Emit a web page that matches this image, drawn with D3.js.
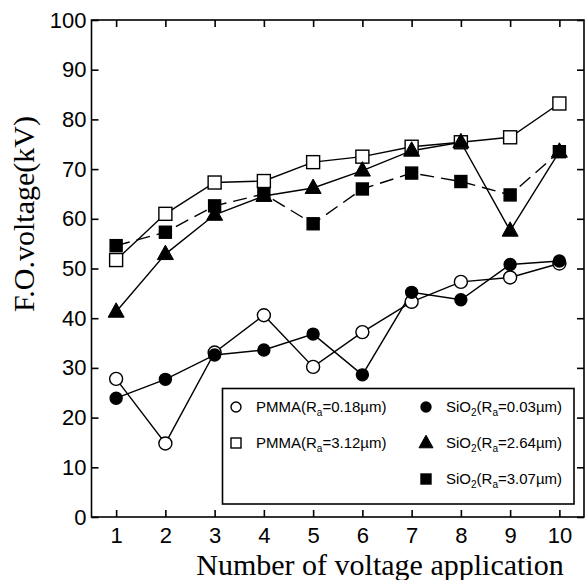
<!DOCTYPE html>
<html>
<head>
<meta charset="utf-8">
<script src="https://cdn.jsdelivr.net/npm/d3@7"></script>
<style>
  html, body { margin: 0; padding: 0; background: #fff; }
  svg { display: block; }
</style>
</head>
<body>
<svg id="chart" width="585" height="580"></svg>
<script>
// ---- data ----
const applications = [1, 2, 3, 4, 5, 6, 7, 8, 9, 10];
const pmma018 = [27.8, 14.8, 33.1, 40.6, 30.2, 37.2, 43.3, 47.3, 48.2, 51.0];
const pmma312 = [51.7, 61.0, 67.3, 67.6, 71.4, 72.5, 74.5, 75.4, 76.4, 83.2];
const sio2003 = [23.9, 27.7, 32.6, 33.6, 36.8, 28.6, 45.2, 43.7, 50.8, 51.5];
const sio2264 = [41.3, 52.9, 60.8, 64.6, 66.2, 69.7, 73.7, 75.4, 57.6, 73.5];
const sio2307 = [54.6, 57.3, 62.6, 65.0, 59.0, 66.0, 69.2, 67.5, 64.8, 73.5];
const yTicks = [0, 10, 20, 30, 40, 50, 60, 70, 80, 90, 100];
const xTicks = [1, 2, 3, 4, 5, 6, 7, 8, 9, 10];
const seriesNames = ["PMMA", "PMMA", "SiO", "SiO", "SiO"];
const raValues = ["0.18", "3.12", "0.03", "2.64", "3.07"];

const series = [
  { name: seriesNames[0], ra: raValues[0], values: pmma018, shape: "circle", fill: false, dash: null, sub2: false },
  { name: seriesNames[1], ra: raValues[1], values: pmma312, shape: "square", fill: false, dash: null, sub2: false },
  { name: seriesNames[2], ra: raValues[2], values: sio2003, shape: "circle", fill: true, dash: null, sub2: true },
  { name: seriesNames[3], ra: raValues[3], values: sio2264, shape: "triangle", fill: true, dash: null, sub2: true },
  { name: seriesNames[4], ra: raValues[4], values: sio2307, shape: "square", fill: true, dash: "14,7", sub2: true }
];

// ---- layout ----
const L = 91.5, R = 584, T = 20, B = 517;
const x = d3.scaleLinear().domain([0.5, 10.5]).range([L, R]);
const y = d3.scaleLinear().domain([0, 100]).range([B, T]);
const svg = d3.select("#chart");
const tickLen = 7;

// frame
svg.append("rect").attr("x", L).attr("y", T).attr("width", R - L).attr("height", B - T)
  .attr("fill", "none").attr("stroke", "#000").attr("stroke-width", 1.6);

// axes with inward ticks
const axLeft = d3.axisLeft(y).tickValues(yTicks).tickSize(-tickLen).tickPadding(5).tickFormat(d3.format("d"));
const axRight = d3.axisRight(y).tickValues(yTicks).tickSize(-tickLen).tickFormat("");
const axBottom = d3.axisBottom(x).tickValues(xTicks).tickSize(-tickLen).tickPadding(10).tickFormat(d3.format("d"));
const axTop = d3.axisTop(x).tickValues(xTicks).tickSize(-tickLen).tickFormat("");

function styleAxis(g) {
  g.select(".domain").remove();
  g.selectAll(".tick line").attr("stroke", "#000").attr("stroke-width", 1.6);
  g.selectAll(".tick text").attr("fill", "#000")
    .style("font-family", "'Liberation Sans', Arial, sans-serif").style("font-size", "22px");
}
svg.append("g").attr("class", "ax-left").attr("transform", `translate(${L},0)`).call(axLeft).call(styleAxis);
svg.append("g").attr("transform", `translate(${R},0)`).call(axRight).call(styleAxis);
svg.append("g").attr("transform", `translate(0,${B})`).call(axBottom).call(styleAxis);
svg.append("g").attr("transform", `translate(0,${T})`).call(axTop).call(styleAxis);

// axis titles
svg.append("text").attr("x", 380).attr("y", 575).attr("text-anchor", "middle")
  .style("font-family", "'Liberation Serif', 'Times New Roman', serif").style("font-size", "30px")
  .text("Number of voltage application");
svg.append("text").attr("transform", "translate(34,214) rotate(-90)").attr("text-anchor", "middle")
  .style("font-family", "'Liberation Serif', 'Times New Roman', serif").style("font-size", "30px")
  .text("F.O.voltage(kV)");

// marker drawing helper
function drawMarker(g, shape, fill, cx, cy, size) {
  const sw = 1.4;
  if (shape === "circle") {
    g.append("circle").attr("cx", cx).attr("cy", cy).attr("r", size / 2)
      .attr("fill", fill ? "#000" : "#fff").attr("stroke", "#000").attr("stroke-width", sw);
  } else if (shape === "square") {
    g.append("rect").attr("x", cx - size / 2).attr("y", cy - size / 2).attr("width", size).attr("height", size)
      .attr("fill", fill ? "#000" : "#fff").attr("stroke", "#000").attr("stroke-width", sw);
  } else if (shape === "triangle") {
    const h = size * 0.9;
    g.append("path").attr("d", `M${cx},${cy - h * 0.62} L${cx + size / 2},${cy + h * 0.38} L${cx - size / 2},${cy + h * 0.38} Z`)
      .attr("fill", "#000").attr("stroke", "#000").attr("stroke-width", 1);
  }
}

// lines
const line = d3.line().x((d, i) => x(applications[i])).y(d => y(d));
series.forEach(s => {
  svg.append("path").datum(s.values).attr("d", line)
    .attr("fill", "none").attr("stroke", "#000").attr("stroke-width", 1.4)
    .attr("stroke-dasharray", s.dash);
});
// markers
function plotSize(s) {
  if (s.shape === "circle") return s.fill ? 12 : 13;
  if (s.shape === "square") return s.fill ? 12 : 13;
  return 16;
}
series.forEach(s => {
  const g = svg.append("g");
  s.values.forEach((v, i) => drawMarker(g, s.shape, s.fill, x(applications[i]), y(v), plotSize(s)));
});

// legend
const lg = svg.append("g");
lg.append("rect").attr("x", 222.5).attr("y", 388.5).attr("width", 351.5).attr("height", 115.5)
  .attr("fill", "#fff").attr("stroke", "#000").attr("stroke-width", 1.6);
const legendPos = [
  { mx: 236, tx: 256, ty: 407 },
  { mx: 236, tx: 256, ty: 443 },
  { mx: 426, tx: 446, ty: 407 },
  { mx: 426, tx: 446, ty: 443 },
  { mx: 426, tx: 446, ty: 479 }
];
const lgSizes = { circle: 10, square: 10, triangle: 14 };
series.forEach((s, i) => {
  const p = legendPos[i];
  drawMarker(lg, s.shape, s.fill, p.mx, p.ty, lgSizes[s.shape]);
  const t = lg.append("text").attr("x", p.tx).attr("y", p.ty).attr("dy", "0.36em")
    .style("font-family", "'Liberation Sans', Arial, sans-serif").style("font-size", "15px");
  t.append("tspan").text(s.name);
  if (s.sub2) t.append("tspan").attr("dy", "4").style("font-size", "10px").text("2");
  t.append("tspan").attr("dy", s.sub2 ? "-4" : "0").text("(R");
  t.append("tspan").attr("dy", "4").style("font-size", "10px").text("a");
  t.append("tspan").attr("dy", "-4").text("=" + s.ra + "\u00B5m)");
});
</script>
</body>
</html>
